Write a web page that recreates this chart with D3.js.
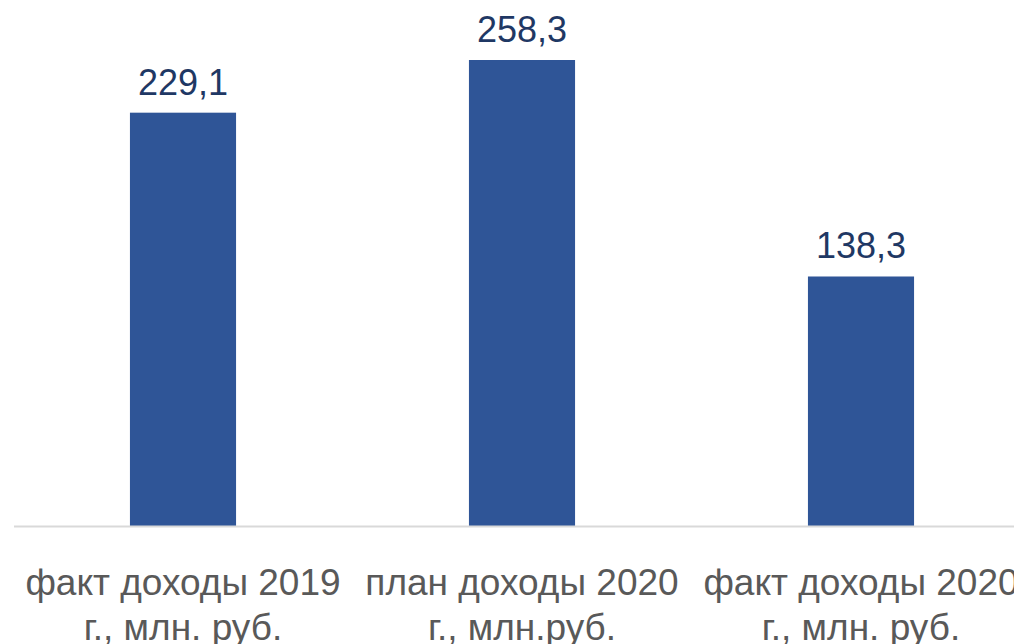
<!DOCTYPE html>
<html><head><meta charset="utf-8">
<script src="https://cdn.jsdelivr.net/npm/d3@7"></script>
<style>html,body{margin:0;padding:0;background:#fff;overflow:hidden}</style>
</head><body>
<svg id="c" width="1014" height="644"></svg>
<script>
const categories = [["факт доходы 2019", "г., млн. руб."], ["план доходы 2020", "г., млн.руб."], ["факт доходы 2020", "г., млн. руб."]];
const values = [229.1, 258.3, 138.3];
const valueLabels = ["229,1", "258,3", "138,3"];

const svg = d3.select("#c");
const baseY = 526;
const x = d3.scaleBand().domain(d3.range(values.length)).range([13.5, 1030.5]).paddingInner(0.687).paddingOuter(0.3435);
const y = d3.scaleLinear().domain([0, 258.3]).range([baseY, 60]);

svg.selectAll("rect.bar").data(values).join("rect")
  .attr("class","bar")
  .attr("x",(d,i)=>x(i)).attr("width",x.bandwidth())
  .attr("y",d=>y(d)).attr("height",d=>baseY-y(d))
  .attr("fill","#2f5597");

svg.append("line").attr("x1",14).attr("x2",1014).attr("y1",baseY+0.5).attr("y2",baseY+0.5)
  .attr("stroke","#d9d9d9").attr("stroke-width",2);

svg.selectAll("text.val").data(values).join("text")
  .attr("class","val")
  .attr("x",(d,i)=>x(i)+x.bandwidth()/2).attr("y",d=>y(d)-18)
  .attr("text-anchor","middle").attr("font-family","Liberation Sans, Arial").attr("font-size",36)
  .attr("fill","#1f3864").text((d,i)=>valueLabels[i]);

const g = svg.selectAll("text.cat").data(categories).join("text")
  .attr("class","cat")
  .attr("x",(d,i)=>x(i)+x.bandwidth()/2)
  .attr("text-anchor","middle").attr("font-family","Liberation Sans, Arial").attr("font-size",37)
  .attr("fill","#595959");
g.each(function(d,i){
  const t = d3.select(this);
  d.forEach((line,j)=>{
    t.append("tspan").attr("x",x(i)+x.bandwidth()/2).attr("y",595+j*45).text(line);
  });
});
</script>
</body></html>
